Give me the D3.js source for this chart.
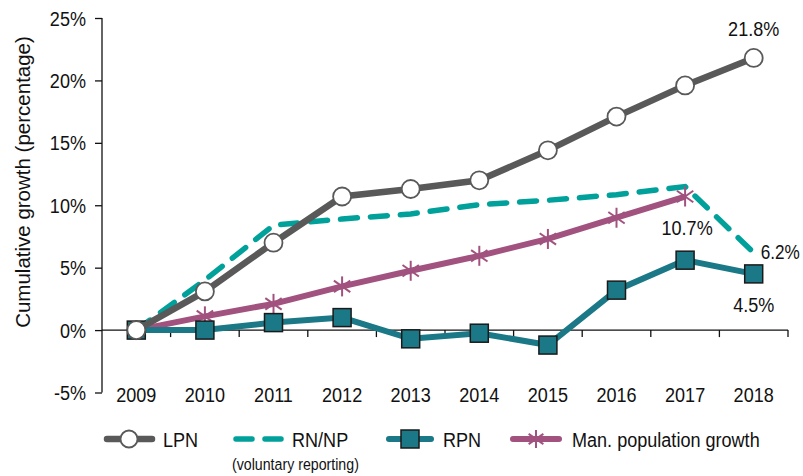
<!DOCTYPE html>
<html>
<head>
<meta charset="utf-8">
<script src="https://cdn.jsdelivr.net/npm/d3@7"></script>
<style>
  body { margin: 0; background: #fff; }
  text { font-family: "Liberation Sans", Arial, sans-serif; fill: #111; }
</style>
</head>
<body>
<script>
var years = ["2009","2010","2011","2012","2013","2014","2015","2016","2017","2018"];
var lpn    = [0, 3.1, 7.0, 10.7, 11.3, 12.0, 14.4, 17.1, 19.6, 21.8];
var rnnp   = [0, 4.0, 8.4, 8.9, 9.3, 10.05, 10.4, 10.85, 11.5, 6.2];
var rpn    = [0, 0.0, 0.6, 1.0, -0.7, -0.25, -1.2, 3.2, 5.6, 4.5];
var manpop = [0, 1.1, 2.1, 3.5, 4.75, 5.95, 7.3, 9.0, 10.7];
var yTicks = [-5, 0, 5, 10, 15, 20, 25];

var width = 803, height = 476;
var plotL = 102, plotR = 788, plotT = 18, plotB = 392.5;
var fs = 21, sx = 0.86;   // narrow-looking font: scale text horizontally

var svg = d3.select("body").append("svg")
    .attr("width", width)
    .attr("height", height);

// text helper, squeezed horizontally like Arial Narrow
function txt(g, px, py, s, anchor, size){
    return g.append("text")
        .attr("transform", "translate(" + px + "," + py + ") scale(" + sx + ",1)")
        .attr("text-anchor", anchor || "start")
        .style("font-size", (size || fs) + "px")
        .text(s);
}

var x = d3.scaleBand().domain(years).range([plotL, plotR]);
var y = d3.scaleLinear().domain([-5, 25]).range([plotB, plotT]);
var cx = function(i){ return x(years[i]) + x.bandwidth()/2; };

// y axis
var yAxis = svg.append("g")
    .attr("transform", "translate(" + plotL + ",0)")
    .call(d3.axisLeft(y).tickValues(yTicks).tickSize(7).tickFormat(""));
yAxis.selectAll("line, path").attr("stroke", "#111").attr("stroke-width", 1.3);
yAxis.select(".domain").attr("d", "M0," + plotT + "V" + plotB);
yTicks.forEach(function(t){
    txt(svg, plotL - 16, y(t) + 7.5, t + "%", "end");
});

// x axis at zero
var xAxis = svg.append("g")
    .attr("transform", "translate(0," + y(0) + ")");
xAxis.append("line")
    .attr("x1", plotL).attr("x2", plotR)
    .attr("stroke", "#111").attr("stroke-width", 1.3);
xAxis.selectAll(".tk").data(years)
  .enter().append("line")
    .attr("x1", function(d, i){ return plotL + x.bandwidth()*(i+1); })
    .attr("x2", function(d, i){ return plotL + x.bandwidth()*(i+1); })
    .attr("y1", 0).attr("y2", 7)
    .attr("stroke", "#111").attr("stroke-width", 1.3);
years.forEach(function(d, i){ txt(svg, cx(i), 401.5, d, "middle"); });

// y label
svg.append("text")
    .attr("transform", "translate(30,182) rotate(-90)")
    .attr("text-anchor", "middle")
    .style("font-size", "20.5px")
    .text("Cumulative growth (percentage)");

var line = d3.line()
    .x(function(d, i){ return cx(i); })
    .y(function(d){ return y(d); });

var cLPN = "#595959", cRN = "#00A19A", cRPN = "#1B7886", cPOP = "#A1527F";

// RN/NP dashed
svg.append("path").datum(rnnp)
    .attr("d", line).attr("fill", "none")
    .attr("stroke", cRN).attr("stroke-width", 5.5)
    .attr("stroke-dasharray", "17,13").attr("stroke-linecap", "round");

function star(g, px, py, r, col){
    [0, 55, 125].forEach(function(a){
        var rad = a * Math.PI / 180;
        g.append("line")
            .attr("x1", px - r*Math.sin(rad)).attr("y1", py - r*Math.cos(rad))
            .attr("x2", px + r*Math.sin(rad)).attr("y2", py + r*Math.cos(rad))
            .attr("stroke", col).attr("stroke-width", 2);
    });
}

// Man. population
svg.append("path").datum(manpop)
    .attr("d", line).attr("fill", "none")
    .attr("stroke", cPOP).attr("stroke-width", 6);
var popG = svg.append("g");
manpop.forEach(function(d, i){ star(popG, cx(i), y(d), 10, cPOP); });

// RPN
svg.append("path").datum(rpn)
    .attr("d", line).attr("fill", "none")
    .attr("stroke", cRPN).attr("stroke-width", 6);
svg.selectAll(".sq").data(rpn).enter().append("rect")
    .attr("x", function(d, i){ return cx(i) - 9; })
    .attr("y", function(d){ return y(d) - 9; })
    .attr("width", 18).attr("height", 18)
    .attr("fill", cRPN).attr("stroke", "#1a1a1a").attr("stroke-width", 1.5);

// LPN
svg.append("path").datum(lpn)
    .attr("d", line).attr("fill", "none")
    .attr("stroke", cLPN).attr("stroke-width", 6.5);
svg.selectAll(".ci").data(lpn).enter().append("circle")
    .attr("cx", function(d, i){ return cx(i); })
    .attr("cy", function(d){ return y(d); })
    .attr("r", 9)
    .attr("fill", "#fff").attr("stroke", cLPN).attr("stroke-width", 1.8);

// value labels
txt(svg, cx(9), y(lpn[9]) - 22, "21.8%", "middle");
txt(svg, cx(8) + 2, y(manpop[8]) + 38, "10.7%", "middle");
txt(svg, cx(9) + 7, y(rnnp[9]) + 6, "6.2%", "start", 20);
txt(svg, cx(9), y(rpn[9]) + 38, "4.5%", "middle");

// legend
var ly = 439;
var lg = svg.append("g");
lg.append("line").attr("x1", 107).attr("x2", 152).attr("y1", ly).attr("y2", ly)
    .attr("stroke", cLPN).attr("stroke-width", 6.5).attr("stroke-linecap", "round");
lg.append("circle").attr("cx", 129).attr("cy", ly).attr("r", 8.5)
    .attr("fill", "#fff").attr("stroke", cLPN).attr("stroke-width", 1.8);
txt(lg, 163, ly + 7.5, "LPN");

lg.append("line").attr("x1", 236).attr("x2", 281).attr("y1", ly).attr("y2", ly)
    .attr("stroke", cRN).attr("stroke-width", 5.5)
    .attr("stroke-dasharray", "16,13").attr("stroke-linecap", "round");
txt(lg, 292, ly + 7.5, "RN/NP");
txt(lg, 232, 469.5, "(voluntary reporting)", "start", 16.5);

lg.append("line").attr("x1", 389).attr("x2", 431).attr("y1", ly).attr("y2", ly)
    .attr("stroke", cRPN).attr("stroke-width", 6).attr("stroke-linecap", "round");
lg.append("rect").attr("x", 401).attr("y", ly - 9).attr("width", 18).attr("height", 18)
    .attr("fill", cRPN).attr("stroke", "#1a1a1a").attr("stroke-width", 1.5);
txt(lg, 443, ly + 7.5, "RPN");

lg.append("line").attr("x1", 513).attr("x2", 559).attr("y1", ly).attr("y2", ly)
    .attr("stroke", cPOP).attr("stroke-width", 6).attr("stroke-linecap", "round");
star(lg, 536, ly, 9, cPOP);
txt(lg, 572, ly + 7.5, "Man. population growth");
</script>
</body>
</html>
